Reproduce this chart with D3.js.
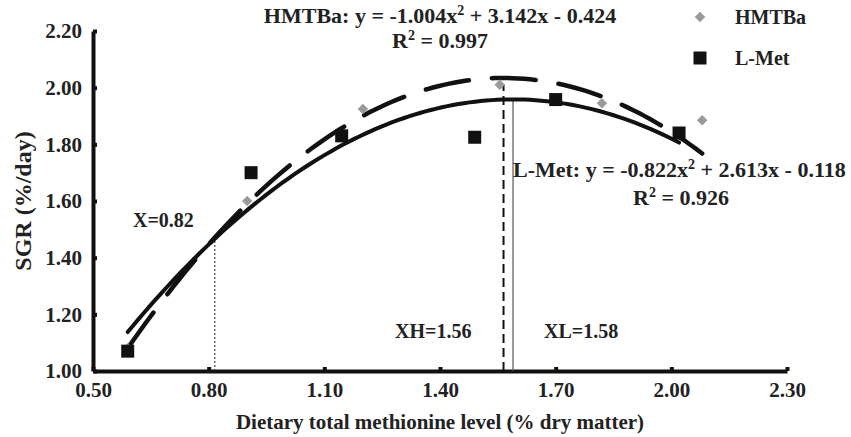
<!DOCTYPE html>
<html>
<head>
<meta charset="utf-8">
<script src="https://cdn.jsdelivr.net/npm/d3@7"></script>
<style>
  body { margin: 0; background: #fff; }
  svg text { font-family: "Liberation Serif", "Times New Roman", serif; font-weight: bold; fill: #222; }
</style>
</head>
<body>
<div id="chart"></div>
<script>
// data
const hmtbaX = [0.59, 0.90, 1.20, 1.555, 1.82, 2.08];
const hmtbaY = [1.08, 1.60, 1.925, 2.01, 1.945, 1.885];
const lmetX = [0.59, 0.91, 1.145, 1.49, 1.70, 2.02];
const lmetY = [1.07, 1.70, 1.83, 1.825, 1.958, 1.84];

// quadratic fits [a, b, c] -> y = a x^2 + b x + c
const hmtbaFit = [-1.004, 3.142, -0.424];
const lmetFit = [-0.822, 2.613, -0.118];
const hmtbaRange = [0.59, 2.08];
const lmetRange = [0.59, 2.02];
const breakX = 0.816;

const xTicks = [0.50, 0.80, 1.10, 1.40, 1.70, 2.00, 2.30];
const yTicks = [1.00, 1.20, 1.40, 1.60, 1.80, 2.00, 2.20];

const W = 851, H = 437;
const margin = { left: 93, right: 64, top: 31, bottom: 66 };

const svg = d3.select("#chart").append("svg")
    .attr("width", W)
    .attr("height", H);

const x = d3.scaleLinear().domain([0.5, 2.3]).range([margin.left, W - margin.right]);
const y = d3.scaleLinear().domain([1.0, 2.2]).range([H - margin.bottom, margin.top]);

const quad = (f, v) => f[0] * v * v + f[1] * v + f[2];
const vertex = f => -f[1] / (2 * f[0]);

// axes
const xAxis = svg.append("g")
    .attr("transform", `translate(0,${y(1.0)})`)
    .call(d3.axisBottom(x).tickValues(xTicks).tickFormat(d3.format(".2f"))
        .tickSizeInner(-4).tickSizeOuter(0).tickPadding(11));
const yAxis = svg.append("g")
    .attr("transform", `translate(${x(0.5)},0)`)
    .call(d3.axisLeft(y).tickValues(yTicks).tickFormat(d3.format(".2f"))
        .tickSizeInner(-4).tickSizeOuter(0).tickPadding(11));

[xAxis, yAxis].forEach(a => {
    a.select(".domain").attr("stroke", "#111").attr("stroke-width", 4);
    a.selectAll(".tick line").attr("stroke", "#111").attr("stroke-width", 4);
    a.selectAll(".tick text").style("font-size", "21px").attr("fill", "#222");
});

// reference lines
const lmV = vertex(lmetFit), hmV = vertex(hmtbaFit);
svg.append("line")
    .attr("x1", x(breakX)).attr("x2", x(breakX))
    .attr("y1", y(1.0)).attr("y2", y(quad(lmetFit, breakX)))
    .attr("stroke", "#222").attr("stroke-width", 1).attr("stroke-dasharray", "2,2");
svg.append("line")
    .attr("x1", x(hmV)).attr("x2", x(hmV))
    .attr("y1", y(1.0)).attr("y2", y(hmtbaY[3]))
    .attr("stroke", "#111").attr("stroke-width", 2).attr("stroke-dasharray", "9,5");
svg.append("line")
    .attr("x1", x(lmV)).attr("x2", x(lmV))
    .attr("y1", y(1.0)).attr("y2", y(quad(lmetFit, lmV)))
    .attr("stroke", "#555").attr("stroke-width", 1.2);

// fitted curves
const line = d3.line().x(d => x(d[0])).y(d => y(d[1]));
const curvePts = (f, r) => d3.range(0, 101).map(i => {
    const v = r[0] + (r[1] - r[0]) * i / 100;
    return [v, quad(f, v)];
});

svg.append("path")
    .attr("d", line(curvePts(lmetFit, lmetRange)))
    .attr("fill", "none").attr("stroke", "#111").attr("stroke-width", 4)
    .attr("stroke-linecap", "round");
svg.append("path")
    .attr("d", line(curvePts(hmtbaFit, hmtbaRange)))
    .attr("fill", "none").attr("stroke", "#111").attr("stroke-width", 4.5)
    .attr("stroke-linecap", "round").attr("stroke-dasharray", "44,23");

// points
const diamond = d3.symbol().type(d3.symbolDiamond2).size(70);
svg.selectAll(".hm").data(d3.zip(hmtbaX, hmtbaY)).enter()
    .append("path").attr("class", "hm")
    .attr("d", diamond)
    .attr("transform", d => `translate(${x(d[0])},${y(d[1])})`)
    .attr("fill", "#9a9a9a");
svg.selectAll(".lm").data(d3.zip(lmetX, lmetY)).enter()
    .append("rect").attr("class", "lm")
    .attr("x", d => x(d[0]) - 6.5).attr("y", d => y(d[1]) - 6.5)
    .attr("width", 13).attr("height", 13)
    .attr("fill", "#111");

// legend
const lg = svg.append("g").attr("transform", "translate(700,0)");
lg.append("path").attr("d", diamond).attr("transform", "translate(0,17)").attr("fill", "#9a9a9a");
lg.append("rect").attr("x", -6.5).attr("y", 51.5).attr("width", 13).attr("height", 13).attr("fill", "#111");
lg.append("text").attr("x", 35).attr("y", 24).style("font-size", "20px").text("HMTBa");
lg.append("text").attr("x", 35).attr("y", 65).style("font-size", "20px").text("L-Met");

// equations and labels
function eqText(tx, ty, anchor, name, f) {
    const t = svg.append("text").attr("x", tx).attr("y", ty).attr("text-anchor", anchor)
        .style("font-size", "22px");
    t.append("tspan").text(`${name}: y = ${f[0].toFixed(3)}x`);
    t.append("tspan").attr("dy", -8).style("font-size", "14px").text("2");
    t.append("tspan").attr("dy", 8).text(` + ${f[1].toFixed(3)}x - ${Math.abs(f[2]).toFixed(3)}`);
}
function r2Text(tx, ty, val) {
    const t = svg.append("text").attr("x", tx).attr("y", ty).attr("text-anchor", "middle")
        .style("font-size", "22px");
    t.append("tspan").text("R");
    t.append("tspan").attr("dy", -8).style("font-size", "14px").text("2");
    t.append("tspan").attr("dy", 8).text(` = ${val}`);
}
eqText(440, 23, "middle", "HMTBa", hmtbaFit);
r2Text(440, 48, "0.997");
eqText(513, 177, "start", "L-Met", lmetFit);
r2Text(681, 205, "0.926");

svg.append("text").attr("x", 133).attr("y", 227).style("font-size", "20px").text("X=0.82");
svg.append("text").attr("x", 395).attr("y", 338).style("font-size", "20px").text("XH=1.56");
svg.append("text").attr("x", 544).attr("y", 338).style("font-size", "20px").text("XL=1.58");

// axis titles
svg.append("text").attr("x", 440).attr("y", 429).attr("text-anchor", "middle")
    .style("font-size", "21px").text("Dietary total methionine level (% dry matter)");
svg.append("text").attr("transform", "translate(31,201) rotate(-90)").attr("text-anchor", "middle")
    .style("font-size", "24px").text("SGR (%/day)");
</script>
</body>
</html>
